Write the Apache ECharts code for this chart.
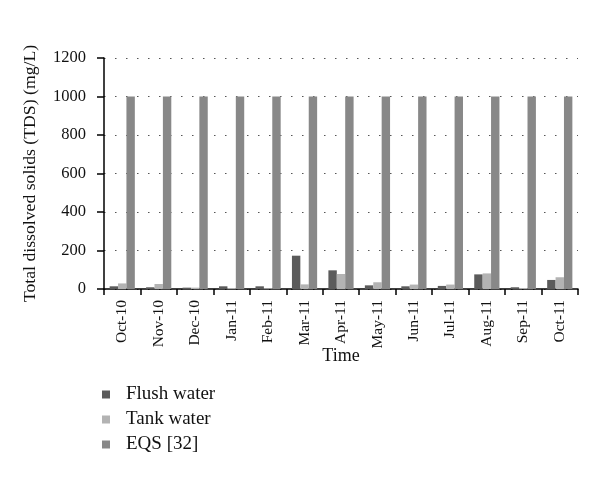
<!DOCTYPE html>
<html>
<head>
<meta charset="utf-8">
<script src="https://cdn.jsdelivr.net/npm/echarts@6/dist/echarts.min.js"></script>
<style>html,body{margin:0;padding:0;background:#fff}#c{width:600px;height:477px}</style>
</head>
<body>
<div id="c"></div>
<script>
const categories = ['Oct-10','Nov-10','Dec-10','Jan-11','Feb-11','Mar-11','Apr-11','May-11','Jun-11','Jul-11','Aug-11','Sep-11','Oct-11'];
const flushWater = [14, 9, 7, 14, 14, 173, 97, 19, 14, 16, 76, 9, 47];
const tankWater = [29, 26, 7, 5, 4, 24, 78, 35, 23, 23, 81, 5, 61];
const eqs = [1000,1000,1000,1000,1000,1000,1000,1000,1000,1000,1000,1000,1000];
const yTicks = [0, 200, 400, 600, 800, 1000, 1200];

const font = 'Liberation Serif';
const chart = echarts.init(document.getElementById('c'));
chart.setOption({
  animation: false,
  textStyle: { fontFamily: font },
  grid: { left: 104, right: 22, top: 58, bottom: 188, containLabel: false },
  legend: {
    orient: 'vertical', left: 102, top: 385, padding: 0, itemWidth: 8, itemHeight: 8, itemGap: 6,
    icon: 'rect',
    textStyle: { fontFamily: font, fontSize: 19, color: '#111', padding: [0,0,0,11] },
    data: ['Flush water', 'Tank water', 'EQS [32]']
  },
  xAxis: {
    type: 'category', data: categories,
    name: 'Time', nameLocation: 'middle', nameGap: 58, nameMoveOverlap: false,
    nameTextStyle: { fontFamily: font, fontSize: 18, color: '#111' },
    axisLine: { lineStyle: { color: '#000', width: 1.5 } },
    axisTick: { show: true, alignWithLabel: false, length: 6, lineStyle: { color: '#000', width: 1.5 } },
    axisLabel: { rotate: 90, fontFamily: font, fontSize: 15.5, color: '#111', margin: 11, interval: 0 }
  },
  yAxis: {
    type: 'value', min: 0, max: 1200, interval: 200,
    name: 'Total dissolved solids (TDS) (mg/L)', nameLocation: 'middle', nameGap: 65, nameMoveOverlap: false,
    nameTextStyle: { fontFamily: font, fontSize: 17.7, color: '#111' },
    axisLine: { show: true, lineStyle: { color: '#000', width: 1.5 } },
    axisTick: { show: true, length: 7, lineStyle: { color: '#000', width: 1.5 } },
    axisLabel: { fontFamily: font, fontSize: 16.5, color: '#111', margin: 18,
      formatter: v => yTicks.includes(v) ? String(v) : '' },
    splitLine: { show: true, lineStyle: { color: '#555', type: [1.5, 9.5], width: 1.2 } }
  },
  series: [
    { name: 'Flush water', type: 'bar', data: flushWater, barWidth: 8.4, barGap: '0%', itemStyle: { color: '#5b5b5b' } },
    { name: 'Tank water', type: 'bar', data: tankWater, barWidth: 8.4, barGap: '0%', itemStyle: { color: '#b3b3b3' } },
    { name: 'EQS [32]', type: 'bar', data: eqs, barWidth: 8.4, barGap: '0%', itemStyle: { color: '#888888' } }
  ]
});
</script>
</body>
</html>
